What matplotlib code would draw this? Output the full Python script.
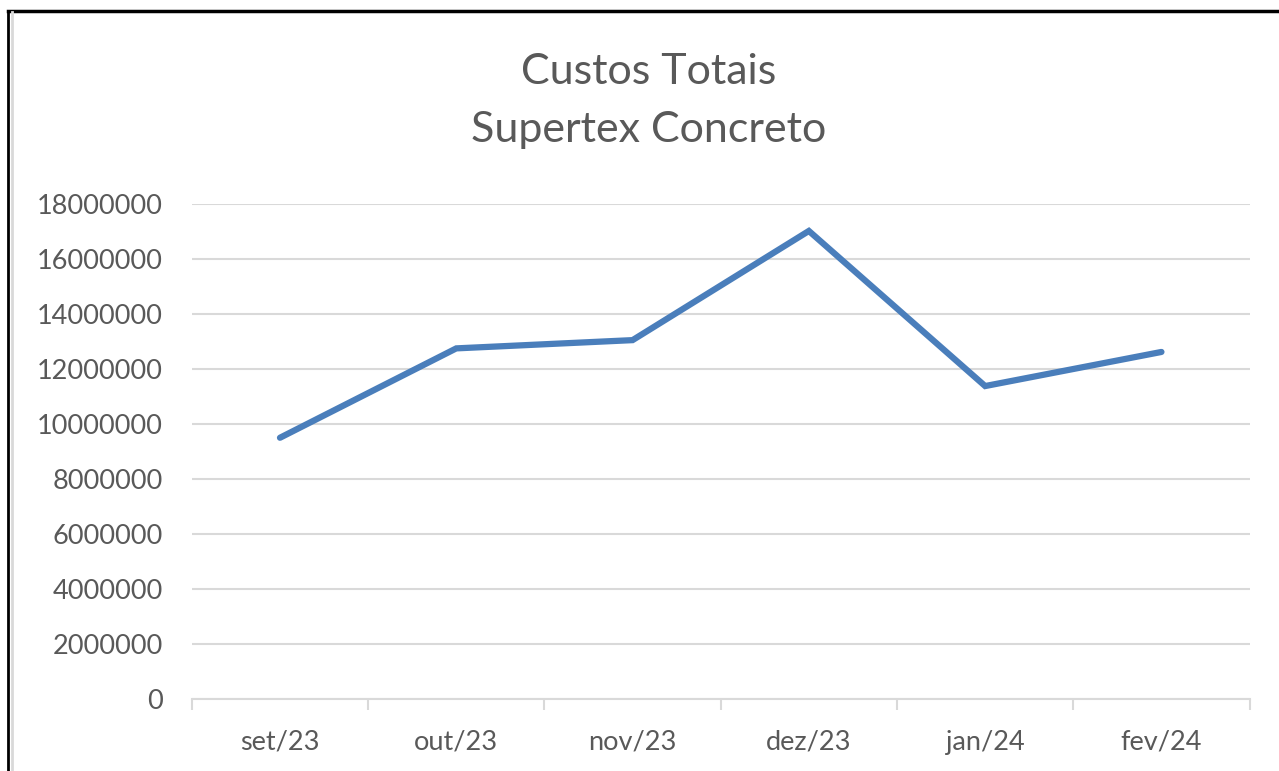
import matplotlib.pyplot as plt
from matplotlib.lines import Line2D
import numpy as np

plt.rcParams['font.family'] = ['Lato', 'DejaVu Sans']

meses = ["set/23", "out/23", "nov/23", "dez/23", "jan/24", "fev/24"]
custos = [9500000, 12750000, 13050000, 17020000, 11380000, 12620000]
y_ticks = list(range(0, 18000001, 2000000))

fig = plt.figure(figsize=(12.79, 7.71), dpi=100)
ax = fig.add_axes([0.150, 0.0934, 0.827, 0.642])

x = np.arange(len(meses))
ax.plot(x, custos, color='#4a7ebb', linewidth=4.5, solid_capstyle='round', solid_joinstyle='miter', zorder=3)

ax.set_xlim(-0.5, len(meses) - 0.5)
ax.set_ylim(0, 18000000)
ax.set_yticks(y_ticks)
ax.set_yticklabels([str(v) for v in y_ticks], fontsize=19.5, color='#595959')
ax.set_xticks(x)
ax.set_xticklabels(meses, fontsize=19.5, color='#595959')
ax.set_xticks(np.arange(-0.5, len(meses), 1), minor=True)
ax.tick_params(axis='x', which='major', length=0, pad=22)
ax.tick_params(axis='x', which='minor', length=8, width=1.5, color='#d9d9d9')
ax.tick_params(axis='y', length=0, pad=21)

ax.grid(axis='y', color='#d9d9d9', linewidth=1.5, zorder=0)
for s in ['top', 'right', 'left']:
    ax.spines[s].set_visible(False)
ax.spines['bottom'].set_color('#d9d9d9')
ax.spines['bottom'].set_linewidth(1.5)

fig.text(0.507, 0.906, "Custos Totais", ha='center', va='center', fontsize=31, color='#595959')
fig.text(0.507, 0.831, "Supertex Concreto", ha='center', va='center', fontsize=31, color='#595959')

# moldura
fig.add_artist(Line2D([0.0066, 0.0066], [0, 0.986], color='black', linewidth=2))
fig.add_artist(Line2D([0.0066, 1], [0.986, 0.986], color='black', linewidth=2.5))
fig.add_artist(Line2D([0.0090, 0.0090], [0, 0.984], color='#d9d9d9', linewidth=2))

plt.savefig('out.png', dpi=100)
